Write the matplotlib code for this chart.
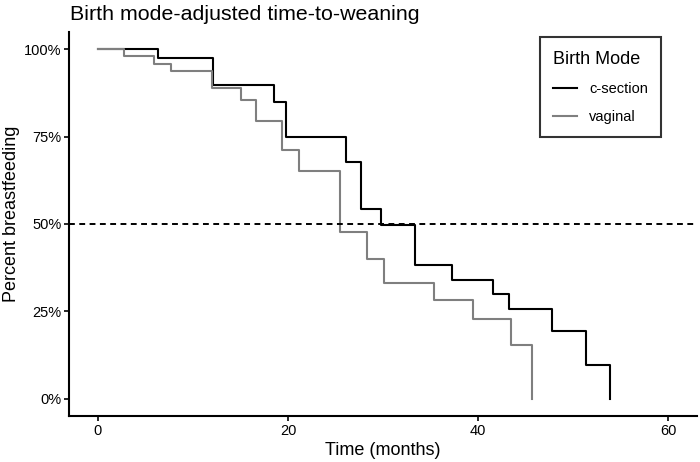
import numpy as np
import matplotlib
matplotlib.use("Agg")
import matplotlib.pyplot as plt
from matplotlib.ticker import PercentFormatter

plt.rcParams['font.family'] = ['Liberation Sans', 'DejaVu Sans']

# Kaplan-Meier style step curves (months, % breastfeeding)
csec_time = [0, 6.3, 12.1, 18.5, 19.8, 26.1, 27.7, 29.8, 33.3, 37.2, 41.5, 43.2, 47.8, 51.3, 53.9]
csec_surv = [100, 97.6, 89.9, 84.9, 74.8, 67.6, 54.4, 49.6, 38.2, 34.0, 29.9, 25.6, 19.3, 9.7, 0]

vag_time = [0, 2.8, 5.9, 7.7, 12.0, 15.1, 16.6, 19.4, 21.1, 25.5, 28.3, 30.1, 35.3, 39.5, 43.4, 45.7]
vag_surv = [100, 98.0, 95.9, 93.8, 88.9, 85.6, 79.5, 71.3, 65.2, 47.7, 40.0, 33.0, 28.3, 22.8, 15.2, 0]

series = [
    ("c-section", csec_time, csec_surv, "black"),
    ("vaginal", vag_time, vag_surv, "#7f7f7f"),
]

fig = plt.figure(figsize=(7, 4.62), dpi=100)
ax = fig.add_axes([0.099, 0.0996, 0.8967, 0.8314])

for name, t, s, col in series:
    ax.step(t, np.array(s) / 100, where="post", color=col, lw=1.5, label=name)

ax.axhline(0.5, color="black", lw=1.4, dashes=(3, 2.3))

ax.set_xlim(-3, 63)
ax.set_ylim(-0.05, 1.05)
ax.set_xticks([0, 20, 40, 60])
ax.set_yticks([0, 0.25, 0.5, 0.75, 1.0])
ax.yaxis.set_major_formatter(PercentFormatter(1.0, decimals=0))

for sp in ["top", "right"]:
    ax.spines[sp].set_visible(False)
for sp in ["left", "bottom"]:
    ax.spines[sp].set_linewidth(1.5)
ax.tick_params(axis="both", which="major", length=3.6, width=1.2, labelsize=10.5,
               colors="black", pad=2)

ax.set_xlabel("Time (months)", fontsize=13, labelpad=3)
fig.text(0.0165, 0.537, "Percent breastfeeding", fontsize=13, rotation=90,
         ha="center", va="center")
fig.text(0.1, 0.99, "Birth mode-adjusted time-to-weaning", fontsize=15.4,
         ha="left", va="top")

leg = ax.legend(title="Birth Mode", loc="upper right", bbox_to_anchor=(0.9427, 0.9854),
                borderaxespad=0, fontsize=10.5, title_fontsize=13, frameon=True,
                fancybox=False, handlelength=1.65, borderpad=0.9, labelspacing=0.97,
                handletextpad=0.8)
leg.get_frame().set_edgecolor("black")
leg.get_frame().set_linewidth(1.5)
leg._legend_box.align = "left"

fig.savefig("out.png", dpi=100)
